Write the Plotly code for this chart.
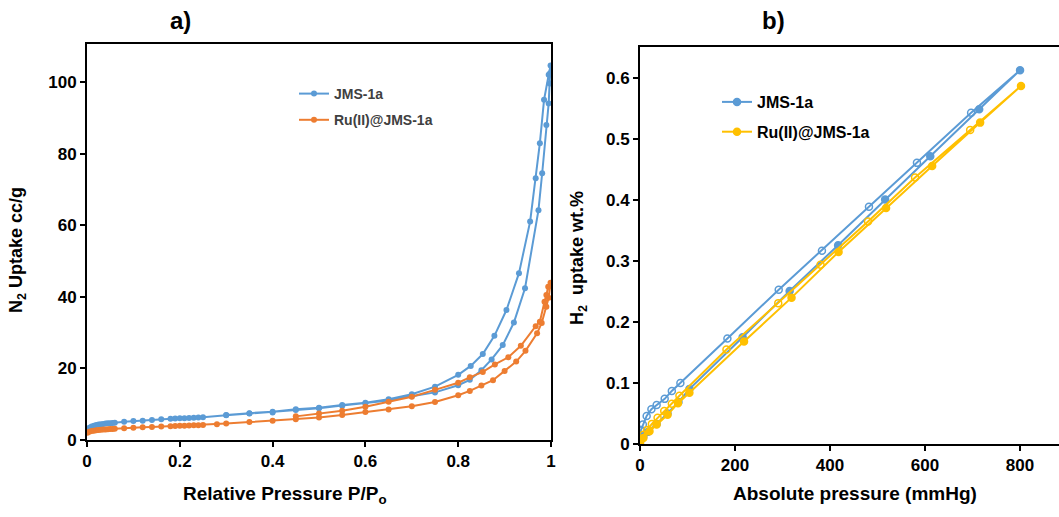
import plotly.graph_objects as go

# ---------------- Panel a: N2 isotherms ----------------
p_blue_ads = [0.001,0.005,0.01,0.015,0.02,0.025,0.03,0.035,0.04,0.045,0.05,0.055,0.06,0.08,0.10,0.12,0.14,0.16,0.18,0.19,0.20,0.21,0.22,0.23,0.24,0.25,0.30,0.35,0.40,0.45,0.50,0.55,0.60,0.65,0.70,0.75,0.80,0.825,0.85,0.872,0.896,0.92,0.944,0.973,0.981,0.99,0.995,0.997,0.998,0.999]
v_blue_ads = [2.9,3.4,3.8,4.0,4.2,4.3,4.4,4.5,4.6,4.65,4.7,4.75,4.8,5.1,5.3,5.4,5.6,5.8,5.95,6.0,6.05,6.1,6.15,6.2,6.3,6.35,6.9,7.4,7.7,8.4,8.9,9.6,10.2,11.0,12.2,13.3,15.3,16.8,19.5,22.5,26.5,32.8,42.4,64.2,74.5,88.0,94.0,99.6,102.4,104.6]
p_blue_des = [0.995,0.985,0.976,0.967,0.955,0.931,0.904,0.878,0.853,0.827,0.80,0.75,0.70,0.65,0.60,0.55,0.50,0.45,0.40,0.35,0.30]
v_blue_des = [102.0,95.0,82.9,73.1,61.0,46.6,36.3,29.1,24.0,20.7,18.2,14.9,12.8,11.4,10.4,9.8,9.0,8.6,7.9,7.5,7.0]

p_or_ads = [0.001,0.005,0.01,0.015,0.02,0.025,0.03,0.035,0.04,0.045,0.05,0.055,0.06,0.08,0.10,0.12,0.14,0.16,0.18,0.19,0.20,0.21,0.22,0.23,0.24,0.25,0.28,0.30,0.35,0.40,0.45,0.50,0.55,0.60,0.65,0.70,0.75,0.80,0.825,0.85,0.875,0.90,0.925,0.945,0.97,0.98,0.99,0.995,0.999]
v_or_ads = [2.0,2.3,2.5,2.6,2.7,2.8,2.85,2.9,2.95,3.0,3.05,3.1,3.15,3.3,3.45,3.55,3.65,3.75,3.85,3.9,3.95,4.0,4.05,4.1,4.15,4.2,4.4,4.6,5.0,5.4,5.8,6.3,7.0,7.8,8.5,9.4,10.6,12.5,13.7,15.2,16.7,19.3,21.9,24.9,29.8,32.7,37.2,39.7,43.9]
p_or_des = [0.994,0.99,0.986,0.976,0.967,0.935,0.908,0.879,0.853,0.825,0.80,0.75,0.70,0.65,0.60,0.55,0.50,0.45]
v_or_des = [42.8,40.5,38.6,33.0,31.8,26.3,23.1,21.1,19.0,17.5,16.0,14.0,12.1,10.7,9.3,8.2,7.4,6.6]

# ---------------- Panel b: H2 isotherms ----------------
P_blue_ads = [0,7,17,35,58,81,104,216,315,417,516,611,714,800]
U_blue_ads = [0.003,0.012,0.020,0.033,0.050,0.069,0.090,0.175,0.251,0.326,0.401,0.472,0.549,0.613]
P_blue_des = [697,583,482,383,292,184,85,67,52,35,24,14,6,2,0]
U_blue_des = [0.543,0.461,0.389,0.317,0.253,0.173,0.100,0.087,0.074,0.064,0.057,0.046,0.032,0.023,0.013]

P_yel_ads = [0,7,20,35,58,80,104,219,319,418,518,615,716,802]
U_yel_ads = [0.002,0.010,0.021,0.032,0.048,0.067,0.084,0.168,0.240,0.315,0.387,0.456,0.527,0.587]
P_yel_des = [695,579,480,380,291,182,83,67,51,37,25,15,7,1]
U_yel_des = [0.515,0.437,0.365,0.294,0.231,0.155,0.079,0.066,0.054,0.043,0.033,0.023,0.015,0.007]

names = ["JMS-1a", "Ru(II)@JMS-1a"]
BLUE = "#5B9BD5"
ORANGE = "#ED7D31"
YELLOW = "#FFC000"

W, H = 1059, 517
ML, MR, MT, MB = 60, 0, 30, 50
PW, PH = W - ML - MR, H - MT - MB
FONT = "Arial, Liberation Sans, sans-serif"

def fx(x):
    return (x - ML) / PW

def fy(y):
    return (H - MB - y) / PH

fig = go.Figure()

# Panel a traces
fig.add_trace(go.Scatter(
    x=p_blue_ads + p_blue_des, y=v_blue_ads + v_blue_des,
    mode="lines+markers", name=names[0], legendgroup="a1",
    line=dict(color=BLUE, width=2), marker=dict(color=BLUE, size=6),
    xaxis="x", yaxis="y", legend="legend"))
fig.add_trace(go.Scatter(
    x=p_or_ads + p_or_des, y=v_or_ads + v_or_des,
    mode="lines+markers", name=names[1], legendgroup="a2",
    line=dict(color=ORANGE, width=2), marker=dict(color=ORANGE, size=6),
    xaxis="x", yaxis="y", legend="legend"))

# Panel b traces
fig.add_trace(go.Scatter(
    x=P_blue_ads + P_blue_des, y=U_blue_ads + U_blue_des,
    mode="lines+markers", name=names[0], legendgroup="b1",
    line=dict(color=BLUE, width=2),
    marker=dict(color=BLUE, size=7,
                symbol=["circle"] * len(P_blue_ads) + ["circle-open"] * len(P_blue_des),
                line=dict(color=BLUE, width=1.5)),
    xaxis="x2", yaxis="y2", legend="legend2"))
fig.add_trace(go.Scatter(
    x=P_yel_ads + P_yel_des, y=U_yel_ads + U_yel_des,
    mode="lines+markers", name=names[1], legendgroup="b2",
    line=dict(color=YELLOW, width=2),
    marker=dict(color=YELLOW, size=7,
                symbol=["circle"] * len(P_yel_ads) + ["circle-open"] * len(P_yel_des),
                line=dict(color=YELLOW, width=1.5)),
    xaxis="x2", yaxis="y2", legend="legend2"))

tickfont = dict(family=FONT, size=17, color="black", weight="bold")
axis_common = dict(showgrid=False, zeroline=False, showline=True, linecolor="black",
                   linewidth=2, ticks="outside", ticklen=5, tickwidth=1.5, tickcolor="black",
                   tickfont=tickfont, fixedrange=True, automargin=False)

fig.update_layout(
    width=W, height=H,
    margin=dict(l=ML, r=MR, t=MT, b=MB),
    paper_bgcolor="white", plot_bgcolor="white",
    xaxis=dict(domain=[fx(87), fx(551)], range=[0, 1], dtick=0.2, mirror=True,
               anchor="y", **axis_common),
    yaxis=dict(domain=[fy(440), fy(44)], range=[0, 110.6], dtick=20, mirror=True,
               anchor="x", **axis_common),
    xaxis2=dict(domain=[fx(640), 1.0], range=[0, 882], dtick=200, mirror=True,
                anchor="y2", **axis_common),
    yaxis2=dict(domain=[fy(444), fy(47)], range=[0, 0.651], dtick=0.1, mirror=False,
                anchor="x2", **axis_common),
    legend=dict(x=fx(294), y=fy(78), xanchor="left", yanchor="top",
                bgcolor="rgba(0,0,0,0)", tracegroupgap=5,
                font=dict(family=FONT, size=14, color="#404040", weight="bold"),
                itemwidth=30),
    legend2=dict(x=fx(717), y=fy(85), xanchor="left", yanchor="top",
                 bgcolor="rgba(0,0,0,0)", tracegroupgap=6,
                 font=dict(family=FONT, size=16, color="black", weight="bold"),
                 itemwidth=30),
    showlegend=True,
)

ann_font_x = dict(family=FONT, size=19, color="black", weight="bold")
ann_font_y = dict(family=FONT, size=18, color="black", weight="bold")
title_font = dict(family=FONT, size=24, color="black", weight="bold")
annotations = [
    dict(text="a)", x=fx(180), y=fy(20), font=title_font),
    dict(text="b)", x=fx(773), y=fy(20), font=title_font),
    dict(text="Relative Pressure P/P<sub>o</sub>", x=fx(285), y=fy(495), font=ann_font_x),
    dict(text="Absolute pressure (mmHg)", x=fx(855), y=fy(493), font=ann_font_x),
    dict(text="N<sub>2</sub> Uptake cc/g", x=fx(18), y=fy(250), textangle=-90, font=ann_font_y),
    dict(text="H<sub>2</sub>  uptake wt.%", x=fx(578), y=fy(258), textangle=-90, font=ann_font_y),
]
for a in annotations:
    a.update(xref="paper", yref="paper", showarrow=False, xanchor="center", yanchor="middle")
fig.update_layout(annotations=annotations)

fig.write_html("out.html", config={"displayModeBar": False},
               post_script="document.body.style.margin='0';document.body.style.overflow='hidden';")
